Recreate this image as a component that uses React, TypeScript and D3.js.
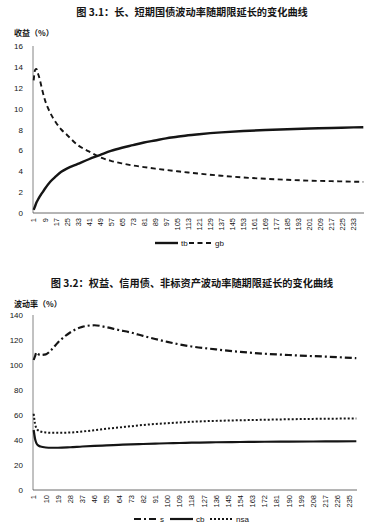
import * as d3 from 'd3'
import { FC } from 'react'

// chart 3.1: yield curves by period
const periods1: number[] = [1, 2, 3, 4, 5, 7, 9, 13, 17, 21, 25, 33, 41, 49, 57, 65, 73, 81, 89, 97, 105, 113, 121, 137, 153, 169, 185, 201, 217, 233, 240]
const tb: number[] = [0.3, 0.65, 1.0, 1.25, 1.5, 1.9, 2.3, 3.0, 3.5, 3.95, 4.25, 4.7, 5.15, 5.55, 5.95, 6.25, 6.5, 6.75, 6.95, 7.15, 7.3, 7.45, 7.55, 7.72, 7.85, 7.95, 8.03, 8.1, 8.15, 8.2, 8.22]
const gb: number[] = [12.7, 13.7, 13.8, 13.4, 13.0, 11.9, 10.9, 9.6, 8.7, 8.0, 7.5, 6.5, 5.9, 5.35, 5.0, 4.75, 4.55, 4.4, 4.25, 4.12, 4.0, 3.88, 3.77, 3.57, 3.4, 3.28, 3.18, 3.1, 3.05, 3.0, 2.98]
const xTicks1: number[] = [1, 9, 17, 25, 33, 41, 49, 57, 65, 73, 81, 89, 97, 105, 113, 121, 129, 137, 145, 153, 161, 169, 177, 185, 193, 201, 209, 217, 225, 233]
const yTicks1: number[] = [0, 2, 4, 6, 8, 10, 12, 14, 16]

// chart 3.2: volatility by period
const periods2: number[] = [1, 2, 3, 4, 6, 10, 14, 19, 28, 37, 46, 55, 64, 73, 82, 91, 100, 109, 118, 136, 154, 172, 190, 208, 226, 240]
const s: number[] = [104, 107, 110, 109, 108, 108.5, 112, 118, 126, 130.5, 131.8, 130.2, 128, 126, 123.3, 120.8, 118.5, 116.5, 114.8, 112.5, 110.5, 109, 108, 107.1, 106.3, 105.4]
const cb: number[] = [48, 41, 37.5, 36, 34.8, 34, 33.8, 33.8, 34.2, 34.8, 35.3, 35.7, 36.1, 36.5, 36.8, 37.1, 37.4, 37.6, 37.9, 38.2, 38.4, 38.6, 38.7, 38.8, 38.9, 39]
const nsa: number[] = [61, 53, 49.5, 48, 46.8, 46, 45.8, 45.8, 46, 46.8, 47.8, 49, 50, 51, 52, 52.8, 53.4, 54, 54.6, 55.3, 55.8, 56.2, 56.6, 56.9, 57.1, 57.2]
const xTicks2: number[] = [1, 10, 19, 28, 37, 46, 55, 64, 73, 82, 91, 100, 109, 118, 127, 136, 145, 154, 163, 172, 181, 190, 199, 208, 217, 226, 235]
const yTicks2: number[] = [0, 20, 40, 60, 80, 100, 120, 140]

const cjk = '"Noto Sans CJK SC", sans-serif'
const num = '"Liberation Sans", Arial, sans-serif'
const ink = '#151515'

type Series = { name: string, values: number[], dash: string, width: number }

type PanelProps = {
    periods: number[],
    series: Series[],
    xTicks: number[],
    yTicks: number[],
    x0: number, x1: number,
    yBottom: number, yTop: number,
    title: string, titleY: number,
    yLabel: string, yLabelY: number,
    legendY: number,
    legendX: number[],
}

const Panel: FC<PanelProps> = (p) => {
    const x = d3.scaleLinear().domain([0.5, 240.5]).range([p.x0, p.x1])
    const y = d3.scaleLinear().domain([0, p.yTicks[p.yTicks.length - 1]]).range([p.yBottom, p.yTop])
    const line = (vals: number[]) => d3.line<number>()
        .x((_, i) => x(p.periods[i]))
        .y(v => y(v))
        .curve(d3.curveMonotoneX)(vals) as string

    return (
        <g>
            <text x={192} y={p.titleY} textAnchor="middle" fontFamily={cjk} fontWeight="bold" fontSize={10.2} fill={ink}>{p.title}</text>
            <text x={14} y={p.yLabelY} fontFamily={cjk} fontWeight="bold" fontSize={8} fill={ink}>{p.yLabel}</text>
            {p.yTicks.map(t => (
                <text key={t} x={23} y={y(t) + 3} textAnchor="end" fontFamily={num} fontSize={8} fill={ink}>{t}</text>
            ))}
            <line x1={p.x0} x2={p.x0} y1={p.yTop} y2={p.yBottom} stroke="#666" strokeWidth={0.8} />
            <line x1={p.x0} x2={p.x1} y1={p.yBottom} y2={p.yBottom} stroke="#444" strokeWidth={0.8} />
            {p.xTicks.map(t => (
                <text key={t} transform={`translate(${x(t) + 2.8},${p.yBottom + 5}) rotate(-90)`} textAnchor="end" fontFamily={num} fontSize={7.5} fill={ink}>{t}</text>
            ))}
            {p.series.map(sr => (
                <path key={sr.name} d={line(sr.values)} fill="none" stroke={ink} strokeWidth={sr.width} strokeDasharray={sr.dash} strokeLinejoin="round" />
            ))}
            {p.series.map((sr, i) => (
                <g key={sr.name}>
                    <line x1={p.legendX[i]} x2={p.legendX[i] + 23} y1={p.legendY} y2={p.legendY} stroke={ink} strokeWidth={sr.width} strokeDasharray={sr.dash} />
                    <text x={p.legendX[i] + 26} y={p.legendY + 3} fontFamily={num} fontSize={8} fill={ink}>{sr.name}</text>
                </g>
            ))}
        </g>
    )
}

const App: FC = () => {
    return (
        <svg width={392} height={529} style={{ position: 'absolute', left: 0, top: 0, background: '#fff' }}>
            <Panel
                periods={periods1}
                series={[
                    { name: 'tb', values: tb, dash: '', width: 2.4 },
                    { name: 'gb', values: gb, dash: '5,3.5', width: 1.9 },
                ]}
                xTicks={xTicks1}
                yTicks={yTicks1}
                x0={33} x1={364}
                yBottom={213} yTop={46}
                title="图 3.1：长、短期国债波动率随期限延长的变化曲线" titleY={16}
                yLabel="收益（%）" yLabelY={36}
                legendY={243}
                legendX={[155, 189]}
            />
            <Panel
                periods={periods2}
                series={[
                    { name: 's', values: s, dash: '7,3,2,3', width: 2.2 },
                    { name: 'cb', values: cb, dash: '', width: 2.2 },
                    { name: 'nsa', values: nsa, dash: '2,2', width: 2 },
                ]}
                xTicks={xTicks2}
                yTicks={yTicks2}
                x0={33} x1={357}
                yBottom={490} yTop={315}
                title="图 3.2：权益、信用债、非标资产波动率随期限延长的变化曲线" titleY={287}
                yLabel="波动率（%）" yLabelY={307}
                legendY={519}
                legendX={[134, 170, 210]}
            />
        </svg>
    )
}

export default App
